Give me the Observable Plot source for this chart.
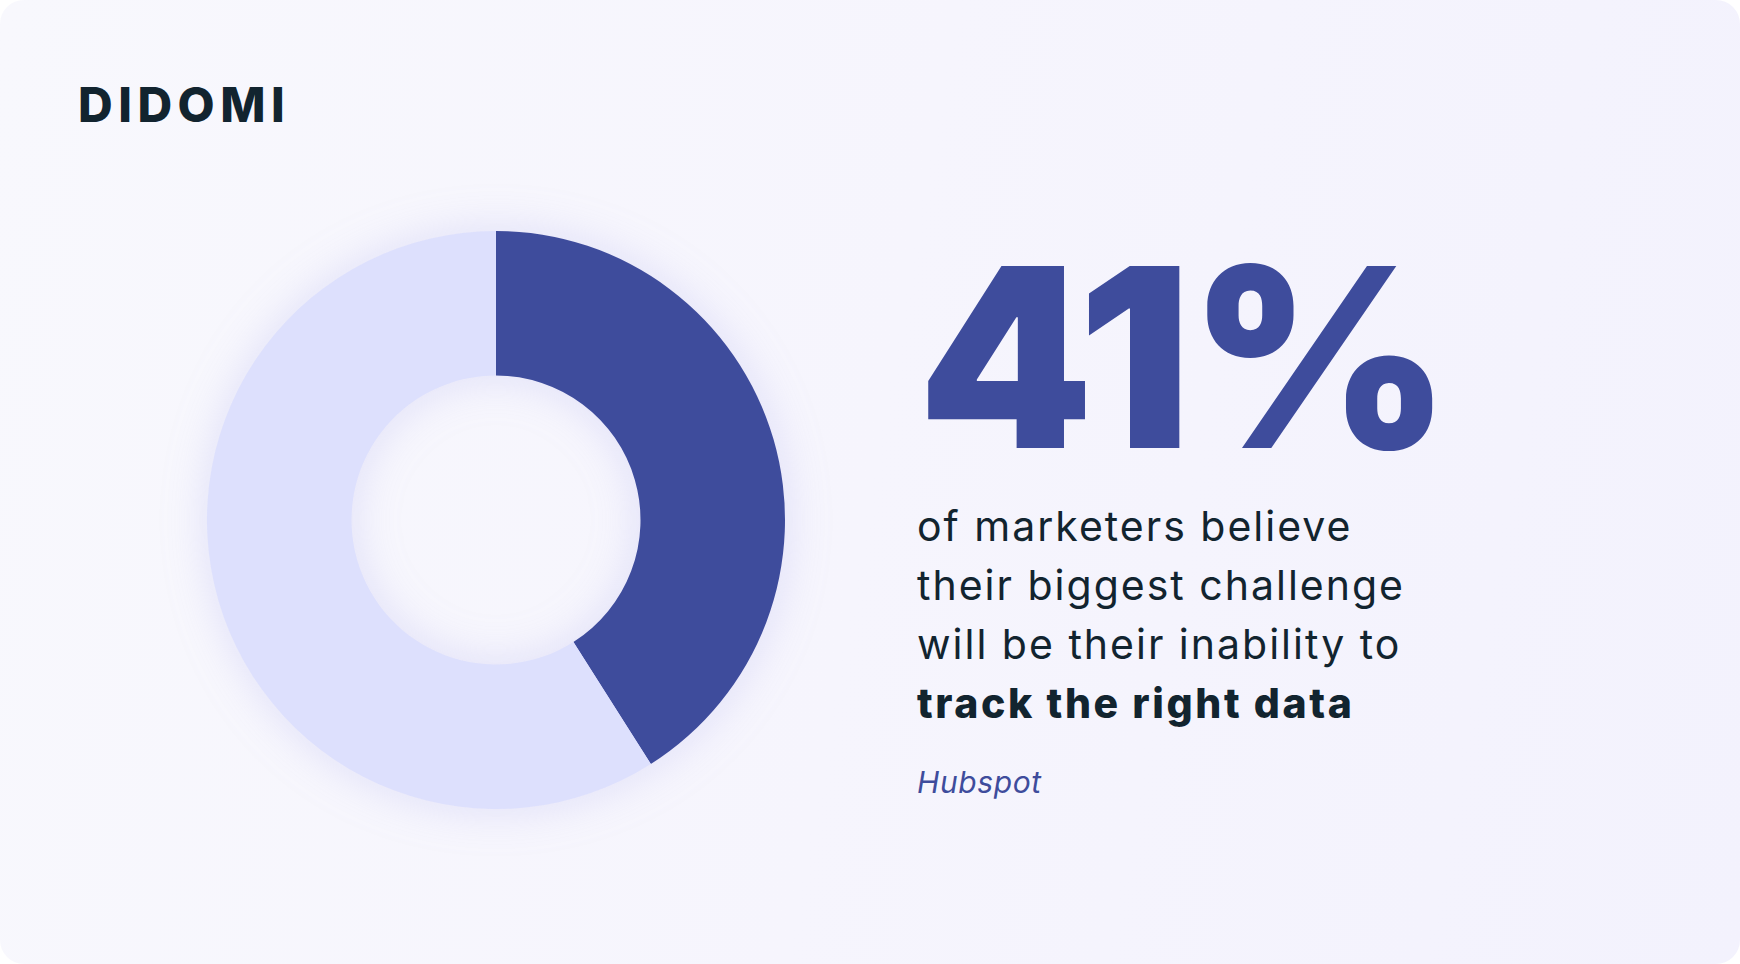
<!DOCTYPE html>
<html>
<head>
<meta charset="utf-8">
<script src="https://cdn.jsdelivr.net/npm/d3@7"></script>
<script src="https://cdn.jsdelivr.net/npm/@observablehq/plot@0.6"></script>
<style>
  html, body { margin: 0; padding: 0; background: #ffffff; }
  body { width: 1740px; height: 964px; position: relative; overflow: hidden; font-family: Inter, "Open Sans", sans-serif; }
  #card { position: absolute; left: 0; top: 0; width: 1740px; height: 964px; border-radius: 24px;
          background: linear-gradient(100deg, #f8f8fd 0%, #f6f5fd 50%, #f3f2fd 100%); }
  #chart { position: absolute; left: 0; top: 0; }
  .logo { position: absolute; left: 78px; top: 81px; font-size: 48px; font-weight: 800; color: #12242f; letter-spacing: 5.5px; line-height: 1; }
  .big { position: absolute; left: 918px; top: 232px; font-size: 250px; font-weight: 900; color: #3e4c9c; line-height: 1; letter-spacing: -2px; }
  .body { position: absolute; left: 917px; top: 497px; font-size: 41px; font-weight: 400; color: #12242f; line-height: 59px; letter-spacing: 2px; }
  .body b { font-weight: 800; letter-spacing: 2.6px; }
  .src { position: absolute; left: 917px; top: 767px; font-size: 30px; font-style: italic; font-weight: 400; color: #3e4c9c; line-height: 1; letter-spacing: 0.6px; }
</style>
</head>
<body>
<div id="card"></div>
<div id="chart"></div>
<div class="logo">DIDOMI</div>
<div class="big">41%</div>
<div class="body">of marketers believe<br>their biggest challenge<br>will be their inability to<br><b>track the right data</b></div>
<div class="src">Hubspot</div>
<script>
const categories = ["Inability to track the right data", "Other marketers"];
const values = [41, 59];
const statLabel = "41%";

const data = categories.map((category, i) => ({category, value: values[i]}));

const color = Plot.scale({color: {type: "ordinal", domain: categories, range: ["#3e4c9c", "#dde0fd"]}});

function donut(index, scales, vals, dimensions) {
  const {width, height, marginTop, marginRight, marginBottom, marginLeft} = dimensions;
  const cx = marginLeft + (width - marginLeft - marginRight) / 2;
  const cy = marginTop + (height - marginTop - marginBottom) / 2;
  const R = Math.min(width - marginLeft - marginRight, height - marginTop - marginBottom) / 2;
  const arcs = d3.pie().sort(null).value(d => d.value)(data);
  const arc = d3.arc().innerRadius(R * 0.5).outerRadius(R);
  const g = d3.create("svg:g")
    .attr("transform", `translate(${cx},${cy})`)
    .style("filter", "drop-shadow(0px 0px 22px rgba(150,150,230,0.25))");
  g.selectAll("path").data(arcs).join("path")
    .attr("d", arc)
    .attr("fill", d => color.apply(d.data.category));
  return g.node();
}

const plot = Plot.plot({
  width: 992,
  height: 964,
  marginTop: 231,
  marginBottom: 155,
  marginLeft: 207,
  marginRight: 207,
  style: {background: "transparent", overflow: "visible"},
  marks: [donut]
});
document.getElementById("chart").appendChild(plot);
</script>
</body>
</html>
